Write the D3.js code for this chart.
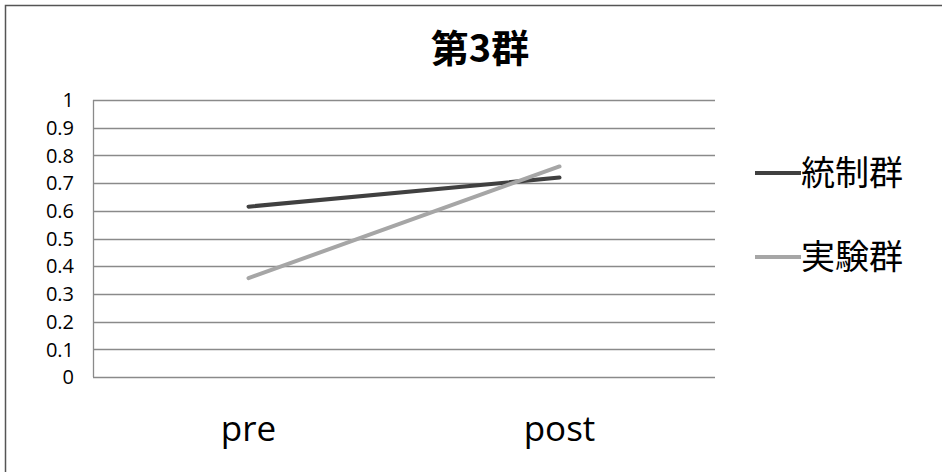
<!DOCTYPE html>
<html>
<head>
<meta charset="utf-8">
<script src="https://cdn.jsdelivr.net/npm/d3@7"></script>
<style>
  body { margin: 0; background: #fff; }
</style>
</head>
<body>
<script>
// data
const categories = ["pre", "post"];
const seriesNames = ["統制群", "実験群"];
const controlValues = [0.615, 0.72];
const experimentValues = [0.357, 0.76];
const yTicks = [0, 0.1, 0.2, 0.3, 0.4, 0.5, 0.6, 0.7, 0.8, 0.9, 1];
const yTickLabels = ["0", "0.1", "0.2", "0.3", "0.4", "0.5", "0.6", "0.7", "0.8", "0.9", "1"];

const W = 942, H = 472;
const margin = { top: 100, right: 227, bottom: 95, left: 93 };
const width = W - margin.left - margin.right;
const height = H - margin.top - margin.bottom;

const svg = d3.select("body").append("svg")
    .attr("width", W)
    .attr("height", H);

// frame, only top and left edges show
svg.append("path")
    .attr("d", "M5.5,472V5.5H942")
    .attr("fill", "none")
    .attr("stroke", "#555")
    .attr("stroke-width", 1.5);

svg.append("text")
    .attr("x", 480)
    .attr("y", 62)
    .attr("text-anchor", "middle")
    .style("font-family", "'Noto Sans CJK JP', sans-serif")
    .style("font-weight", "bold")
    .style("font-size", "38px")
    .text("第3群");

const g = svg.append("g")
    .attr("transform", "translate(" + margin.left + "," + margin.top + ")");

const x = d3.scaleBand().domain(categories).range([0, width]);
const y = d3.scaleLinear().domain([0, 1]).range([height, 0]);

// horizontal grid lines
g.selectAll("line.grid")
    .data(yTicks)
    .enter()
    .append("line")
    .attr("class", "grid")
    .attr("x1", 0)
    .attr("x2", width)
    .attr("y1", d => Math.round(y(d)) + 0.5)
    .attr("y2", d => Math.round(y(d)) + 0.5)
    .attr("stroke", "#8a8a8a")
    .attr("stroke-width", 1.3);

// left axis line
g.append("line")
    .attr("x1", 0.5).attr("x2", 0.5)
    .attr("y1", y(1)).attr("y2", y(0))
    .attr("stroke", "#8a8a8a")
    .attr("stroke-width", 1.3);

// y tick labels
g.selectAll("text.ytick")
    .data(yTicks)
    .enter()
    .append("text")
    .attr("class", "ytick")
    .attr("x", -19)
    .attr("y", d => y(d))
    .attr("dy", "0.36em")
    .attr("text-anchor", "end")
    .style("font-family", "'Open Sans', sans-serif")
    .style("font-size", "20px")
    .text((d, i) => yTickLabels[i]);

// x category labels
g.selectAll("text.xtick")
    .data(categories)
    .enter()
    .append("text")
    .attr("class", "xtick")
    .attr("x", d => x(d) + x.bandwidth() / 2)
    .attr("y", height + 64)
    .attr("text-anchor", "middle")
    .style("font-family", "'Open Sans', sans-serif")
    .style("font-size", "35px")
    .text(d => d);

const line = d3.line()
    .x((d, i) => x(categories[i]) + x.bandwidth() / 2)
    .y(d => y(d));

const series = [
    { name: seriesNames[0], values: controlValues, color: "#404040" },
    { name: seriesNames[1], values: experimentValues, color: "#a6a6a6" }
];

g.selectAll("path.series")
    .data(series)
    .enter()
    .append("path")
    .attr("class", "series")
    .attr("d", d => line(d.values))
    .attr("fill", "none")
    .attr("stroke", d => d.color)
    .attr("stroke-width", 4)
    .attr("stroke-linecap", "round");

// legend
const legend = svg.selectAll("g.legend")
    .data(series)
    .enter()
    .append("g")
    .attr("class", "legend")
    .attr("transform", (d, i) => "translate(755," + (173 + i * 84) + ")");

legend.append("line")
    .attr("x1", 0).attr("x2", 46)
    .attr("stroke", d => d.color)
    .attr("stroke-width", 4);

legend.append("text")
    .attr("x", 46)
    .attr("dy", "0.36em")
    .style("font-family", "'Noto Sans CJK JP', sans-serif")
    .style("font-size", "34px")
    .text(d => d.name);
</script>
</body>
</html>
